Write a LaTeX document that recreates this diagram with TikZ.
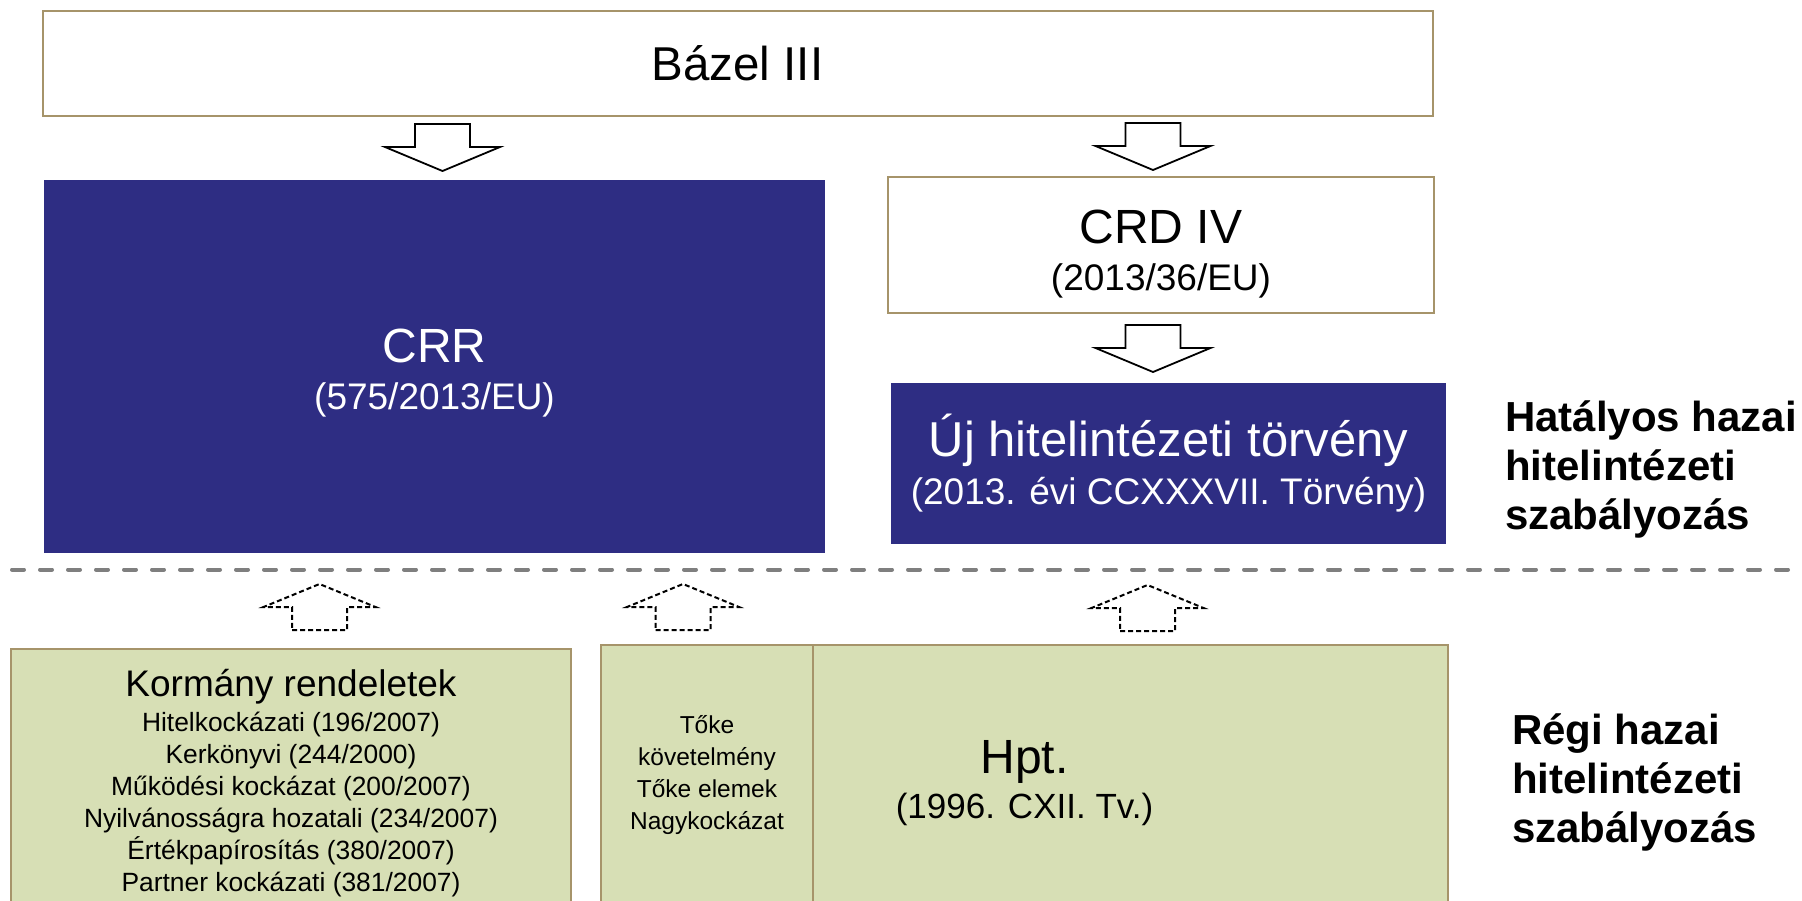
\documentclass[tikz,border=0pt]{standalone}
\usepackage{fontspec}
\setmainfont{Liberation Sans}
\usetikzlibrary{positioning}
\definecolor{navyblock}{RGB}{46, 45, 131}
\definecolor{sagefill}{RGB}{215, 223, 181}
\definecolor{tanline}{RGB}{166, 148, 106}
\definecolor{sepgray}{RGB}{127, 127, 127}
\tikzset{
    whitebox/.style={rectangle, draw=tanline, fill=white, line width=2pt, inner sep=0pt, outer sep=0pt, align=center},
    bluebox/.style={rectangle, fill=navyblock, text=white, inner sep=0pt, outer sep=0pt, align=center},
    greenbox/.style={rectangle, draw=tanline, fill=sagefill, line width=2.5pt, inner sep=0pt, outer sep=0pt},
    boxtext/.style={inner sep=0pt, align=center, text=black},
    sidelabel/.style={inner sep=0pt, align=left, anchor=west, font=\fontsize{42}{49}\selectfont\bfseries},
    separator/.style={sepgray, line width=4pt, line cap=round, dash pattern=on 12pt off 16pt},
    downblock/.pic={\draw[black, fill=white, line width=1.8pt] (-27.5,0) -- (27.5,0) -- (27.5,23) -- (57.5,23) -- (0,47) -- (-57.5,23) -- (-27.5,23) -- cycle;},
    upblock/.pic={\draw[black, line width=2pt, dash pattern=on 5pt off 3pt] (-27.5,0) -- (27.5,0) -- (27.5,-23) -- (56,-23) -- (0,-46) -- (-56,-23) -- (-27.5,-23) -- cycle;}
}

\begin{document}
\begin{tikzpicture}[x=1pt, y=-1pt]
    \useasboundingbox (0,0) rectangle (1802,900);
    \clip (0,0) rectangle (1802,900);

    \node (bazel) [whitebox, minimum width=1390pt, minimum height=105pt, font=\fontsize{47.5}{57}\selectfont] at (737.5,63) {Bázel III};

    \node (crr) [bluebox, minimum width=781pt, minimum height=373pt, font=\fontsize{37}{47}\selectfont] at (434.5,366.5) {{\fontsize{48}{58}\selectfont\rule{0pt}{47pt}CRR}\\(575/2013/EU)};

    \node (crd) [whitebox, minimum width=546pt, minimum height=136pt, font=\fontsize{37}{47}\selectfont] at (1161,245) {{\fontsize{48}{58}\selectfont\rule{0pt}{52pt}CRD IV}\\(2013/36/EU)};

    \node (uj) [bluebox, minimum width=555pt, minimum height=161pt, font=\fontsize{37}{48}\selectfont, below=70pt of crd, xshift=7.5pt] {{\fontsize{49}{59}\selectfont Új hitelintézeti törvény}\\(2013. évi CCXXXVII. Törvény)};

    \pic at (442.5,124) {downblock};
    \pic at (1153,123) {downblock};
    \pic at (1153,325) {downblock};

    \coordinate (sepstart) at (12,569.5);
    \coordinate (sepend) at (1802,569.5);
    \draw[separator] (sepstart) -- (sepend);

    \node (nowlabel) [sidelabel] at (1505,469) {Hatályos hazai\\hitelintézeti\\szabályozás};
    \node (oldlabel) [sidelabel] at (1512,782) {Régi hazai\\hitelintézeti\\szabályozás};

    \pic at (319.5,630) {upblock};
    \pic at (683,630) {upblock};
    \pic at (1147.5,631) {upblock};

    \node (kormany) [greenbox, minimum width=560pt, minimum height=270pt, anchor=north] at (291,649) {};
    \node (toke) [greenbox, minimum width=212pt, minimum height=274pt, anchor=north] at (707,645) {};
    \node (hpt) [greenbox, minimum width=635pt, minimum height=274pt, anchor=north] at (1130.5,645) {};

    \node (kormanytext) [boxtext, font=\fontsize{26.4}{32}\selectfont, below=20pt of kormany.north] {{\fontsize{37}{44}\selectfont Kormány rendeletek}\\[3.5pt]Hitelkockázati (196/2007)\\Kerkönyvi (244/2000)\\Működési kockázat (200/2007)\\Nyilvánosságra hozatali (234/2007)\\Értékpapírosítás (380/2007)\\Partner kockázati (381/2007)};
    \node (toketext) [boxtext, font=\fontsize{24.5}{32}\selectfont] at (707,775) {Tőke\\követelmény\\Tőke elemek\\Nagykockázat};
    \node (hpttext) [boxtext, font=\fontsize{35}{45.5}\selectfont] at (1024.5,783) {{\fontsize{48}{58}\selectfont Hpt.}\\(1996. CXII. Tv.)};
\end{tikzpicture}
\end{document}
